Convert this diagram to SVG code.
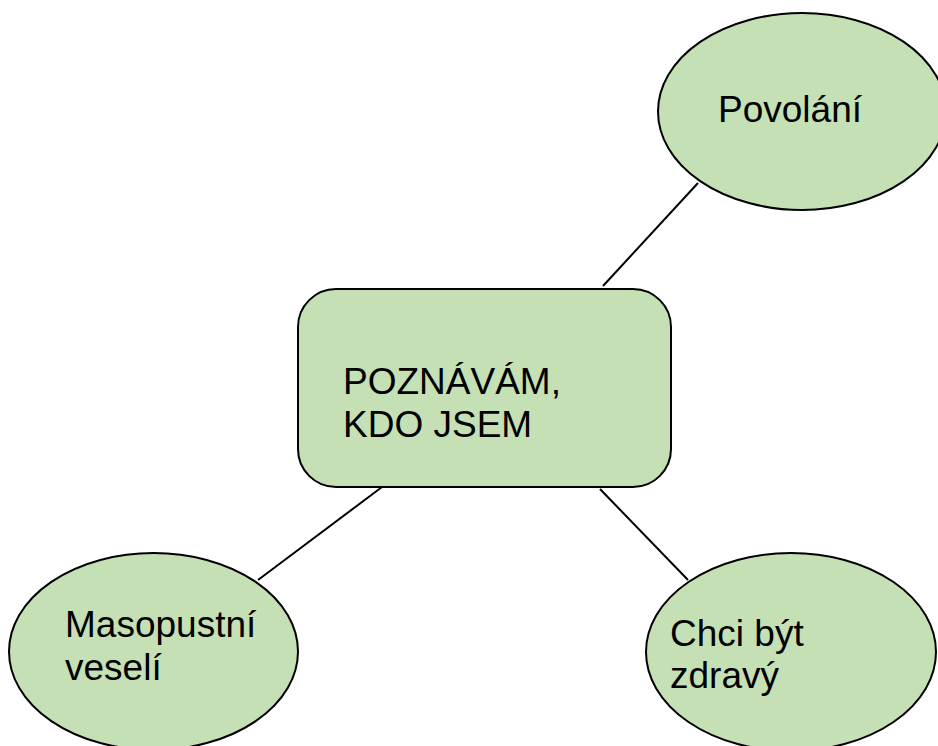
<svg xmlns="http://www.w3.org/2000/svg" width="938" height="746" viewBox="0 0 938 746">
<style>
.shape{fill:#C5E0B4;stroke:#000;stroke-width:2}
.lbl{font-family:"Liberation Sans",Arial,sans-serif;font-size:37px;fill:#000}
.conn{stroke:#000;stroke-width:2;fill:none}
</style>
<rect width="938" height="746" fill="#fff"/>
<g id="connectors">
<line class="conn" x1="698" y1="183" x2="603" y2="286"/>
<line class="conn" x1="382" y1="487" x2="258" y2="580"/>
<line class="conn" x1="600" y1="489" x2="688" y2="580"/>
</g>
<g id="node-povolani">
<ellipse class="shape" cx="802" cy="111.5" rx="144" ry="98.5"/>
<text class="lbl" x="718" y="122">Povolání</text>
</g>
<g id="node-center">
<rect class="shape" x="298" y="289" width="373" height="198" rx="38" ry="38"/>
<text class="lbl" x="343" y="394">POZNÁVÁM,</text>
<text class="lbl" x="343" y="437">KDO JSEM</text>
</g>
<g id="node-masopustni">
<ellipse class="shape" cx="153.5" cy="651.5" rx="144.5" ry="98.5"/>
<text class="lbl" x="65" y="637">Masopustní</text>
<text class="lbl" x="65" y="680">veselí</text>
</g>
<g id="node-zdravy">
<ellipse class="shape" cx="791" cy="652" rx="145" ry="99"/>
<text class="lbl" x="670" y="646">Chci být</text>
<text class="lbl" x="670" y="688">zdravý</text>
</g>
</svg>
